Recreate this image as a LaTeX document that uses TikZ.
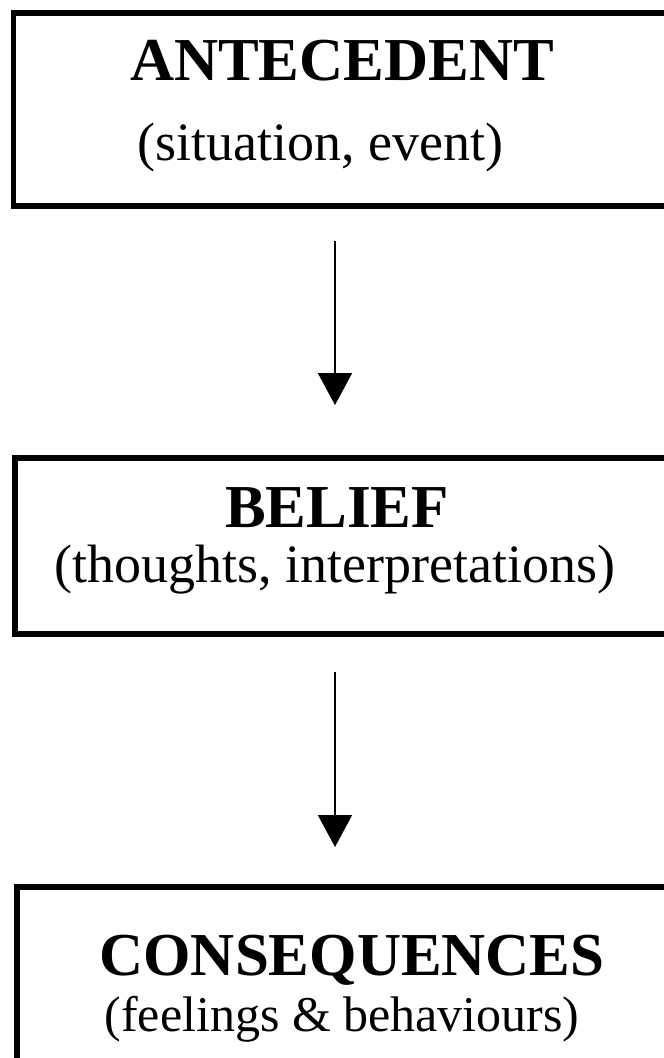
\documentclass[tikz,border=0pt]{standalone}
\usepackage{fontspec}
\setmainfont{Liberation Serif}
\usetikzlibrary{arrows.meta}
\begin{document}
\begin{tikzpicture}[x=1pt,y=-1pt,
  box/.style={draw, line width=5.5pt, outer sep=0pt, inner sep=0pt, anchor=north west, minimum width=720pt},
  ttl/.style={anchor=base, font=\fontsize{61}{61}\selectfont\bfseries, inner sep=0pt},
  sub/.style={anchor=base, font=\fontsize{54}{54}\selectfont, inner sep=0pt},
  arr/.style={line width=2pt, -{Triangle[width=34pt,length=32pt]}}]
\useasboundingbox (0,0) rectangle (664,1058);
\clip (0,0) rectangle (664,1058);
% boxes
\node[box, minimum height=193pt] (boxA) at (13.5,13) {};
\node[box, minimum height=176pt] (boxB) at (15,458) {};
\node[box, minimum height=260pt] (boxC) at (17,887) {};
% texts
\node[ttl] (tA) at (342,80) {ANTECEDENT};
\node[sub] (sA) at (320,160) {(situation, event)};
\node[ttl] (tB) at (337,527) {BELIEF};
\node[sub] (sB) at (335,582) {(thoughts, interpretations)};
\node[ttl] (tC) at (352,975) {CONSEQUENCES};
\node[sub, font=\fontsize{50}{50}\selectfont] (sC) at (342,1031) {(feelings \& behaviours)};
% arrows
\coordinate (a1s) at (335,241);
\coordinate (a1e) at (335,405);
\coordinate (a2s) at (335,672);
\coordinate (a2e) at (335,847);
\draw[arr] (a1s) -- (a1e);
\draw[arr] (a2s) -- (a2e);
\end{tikzpicture}
\end{document}
